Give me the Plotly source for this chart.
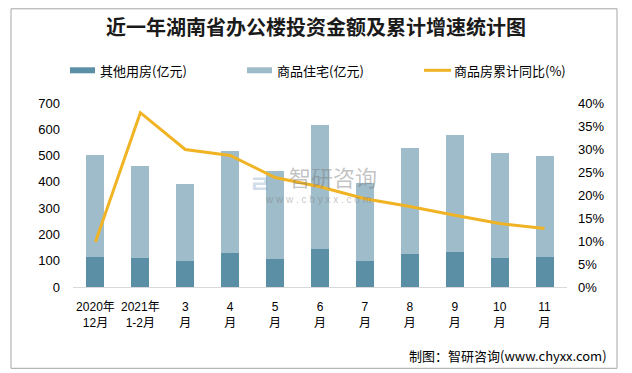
import plotly.graph_objects as go

categories = ["2020年<br>12月", "2021年<br>1-2月", "3<br>月", "4<br>月", "5<br>月", "6<br>月",
              "7<br>月", "8<br>月", "9<br>月", "10<br>月", "11<br>月"]
other_use = [113, 109, 98, 128, 105, 143, 98, 124, 132, 109, 113]
residential = [391, 350, 292, 388, 335, 472, 299, 403, 445, 399, 387]
growth_pct = [9.8, 37.9, 29.9, 28.6, 23.8, 21.8, 19.2, 17.5, 15.6, 13.8, 12.7]
left_ticks = [0, 100, 200, 300, 400, 500, 600, 700]
right_ticks = [0, 5, 10, 15, 20, 25, 30, 35, 40]
series_names = ["其他用房(亿元)", "商品住宅(亿元)", "商品房累计同比(%)"]
series_colors = ["#5b8fa6", "#9fbccb", "#f0b323"]

FONT = "Liberation Sans, Noto Sans CJK SC, sans-serif"
CJK = "Noto Sans CJK SC, sans-serif"

x_idx = list(range(len(categories)))
growth = [v / 100 for v in growth_pct]

fig = go.Figure()
fig.add_trace(go.Bar(x=x_idx, y=other_use, name=series_names[0], marker_color=series_colors[0],
                     marker_line_width=0))
fig.add_trace(go.Bar(x=x_idx, y=residential, name=series_names[1], marker_color=series_colors[1],
                     marker_line_width=0))
fig.add_trace(go.Scatter(x=x_idx, y=growth, name=series_names[2], yaxis="y2", mode="lines",
                         line=dict(color=series_colors[2], width=3)))

# page body has an 8px margin: lay out in screen coordinates and compensate
OFF = 8
SW, SH = 632, 373
W, H = SW - OFF, SH - OFF
L, R, T, B = 73, 65, 102.7, 86.3          # screen-space plot edges
pw = SW - L - R
ph = SH - T - B

def px_x(px):
    return (px - L) / pw

def px_y(py):
    return (SH - B - py) / ph

fig.update_layout(
    width=W, height=H,
    margin=dict(l=L - OFF, r=R, t=T - OFF, b=B, autoexpand=False),
    paper_bgcolor="white", plot_bgcolor="white",
    barmode="stack", bargap=0.6,
    font=dict(family=FONT, size=13, color="#000000"),
    title=dict(text="<b>近一年湖南省办公楼投资金额及累计增速统计图</b>",
               font=dict(family=CJK, size=20, color="#1a1a1a"),
               x=(316 - OFF) / W, xanchor="center", y=1 - (28 - OFF) / H, yanchor="middle"),
    showlegend=False,
    xaxis=dict(tickmode="array", tickvals=x_idx, ticktext=categories, range=[-0.5, 10.5],
               showline=True, linecolor="#d9d9d9", linewidth=1, showgrid=False,
               ticks="", tickfont=dict(family=FONT, size=12), zeroline=False, automargin=False,
               ticklabelstandoff=9),
    yaxis=dict(range=[0, 700], tickvals=left_ticks, showgrid=False, zeroline=False,
               showline=False, ticks="", ticklabelstandoff=12, automargin=False,
               tickfont=dict(family=FONT, size=13)),
    yaxis2=dict(range=[0, 0.40], tickvals=[v / 100 for v in right_ticks],
                ticktext=[f"{v}%" for v in right_ticks], overlaying="y", side="right",
                showgrid=False, zeroline=False, showline=False, ticks="", automargin=False,
                ticklabelstandoff=10, tickfont=dict(family=FONT, size=13)),
)

# outer frame
fig.add_shape(type="rect", xref="paper", yref="paper",
              x0=px_x(11), x1=px_x(617), y0=px_y(368), y1=px_y(8.5),
              line=dict(color="#a6a6a6", width=1), fillcolor="rgba(0,0,0,0)", layer="above")

# legend (manual)
leg_y = px_y(70)
swatch_x = [70, 247, 424]
for i, name in enumerate(series_names):
    x0 = swatch_x[i]
    if i < 2:
        fig.add_shape(type="rect", xref="paper", yref="paper",
                      x0=px_x(x0), x1=px_x(x0 + 25), y0=px_y(73), y1=px_y(67),
                      fillcolor=series_colors[i], line_width=0)
    else:
        fig.add_shape(type="line", xref="paper", yref="paper",
                      x0=px_x(x0), x1=px_x(x0 + 27), y0=leg_y, y1=leg_y,
                      line=dict(color=series_colors[i], width=3))
    fig.add_annotation(xref="paper", yref="paper", x=px_x(x0 + 28), xanchor="left",
                       y=leg_y, yanchor="middle", text=name, showarrow=False,
                       font=dict(family=CJK, size=13, color="#000000"))

# watermark
fig.add_annotation(xref="paper", yref="paper", x=px_x(333), y=px_y(176), text="智研咨询",
                   showarrow=False, font=dict(family=CJK, size=22, color="rgba(120,120,120,0.45)"))
fig.add_annotation(xref="paper", yref="paper", x=px_x(318), y=px_y(199),
                   text="w w w . c h y x x . c o m", showarrow=False,
                   font=dict(family=FONT, size=10, color="rgba(120,120,120,0.45)"))
fig.add_annotation(xref="paper", yref="paper", x=px_x(260), y=px_y(182), text="<b>ㄹ</b>",
                   showarrow=False, font=dict(family=CJK, size=24, color="rgba(120,160,200,0.35)"))

# source note
fig.add_annotation(xref="paper", yref="paper", x=px_x(609), xanchor="right", y=px_y(355),
                   yanchor="middle", text="制图：智研咨询(www.chyxx.com)", showarrow=False,
                   font=dict(family=CJK, size=13, color="#000000"))

fig.write_html("out.html")
